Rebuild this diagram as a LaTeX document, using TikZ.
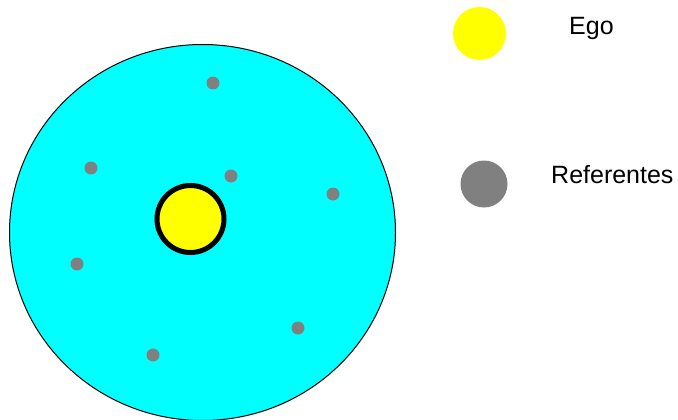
\documentclass[tikz,border=0pt]{standalone}
\usepackage{fontspec}
\setmainfont{Liberation Sans}
\usetikzlibrary{shapes.geometric}
\definecolor{egoyellow}{RGB}{255,255,0}
\definecolor{fieldcyan}{RGB}{0,255,255}
\definecolor{refgray}{RGB}{128,128,128}
\begin{document}
\begin{tikzpicture}[x=1pt,y=-1pt,
  field/.style={ellipse,draw=black,line width=1pt,fill=fieldcyan,inner sep=0,minimum width=386pt,minimum height=376pt},
  egoring/.style={circle,draw=black,line width=5pt,fill=egoyellow,inner sep=0,minimum size=67pt},
  refdot/.style={circle,fill=refgray,inner sep=0,minimum size=13pt},
  egokey/.style={circle,fill=egoyellow,inner sep=0,minimum size=53pt},
  refkey/.style={circle,fill=refgray,inner sep=0,minimum size=47pt},
  label/.style={anchor=base west,inner sep=0,font=\fontsize{25}{30}\selectfont}]
\useasboundingbox (0,0) rectangle (678,420);
\begin{scope}
\clip (0,0) rectangle (678,420);
\node[field] (field) at (202.5,232.5) {};
\end{scope}
\node[egoring] (ego) at (190.5,219) {};
\node[refdot] (r1) at (213,83) {};
\node[refdot] (r2) at (91,168) {};
\node[refdot] (r3) at (231,176) {};
\node[refdot] (r4) at (333,194) {};
\node[refdot] (r5) at (77,264) {};
\node[refdot] (r6) at (298,328) {};
\node[refdot] (r7) at (153,355) {};
\node[egokey] (kego) at (479.5,33.5) {};
\node[refkey] (kref) at (484,184) {};
\node[label] (tego) at (569,35) {Ego};
\node[label] (tref) at (551,183) {Referentes};
\end{tikzpicture}
\end{document}
